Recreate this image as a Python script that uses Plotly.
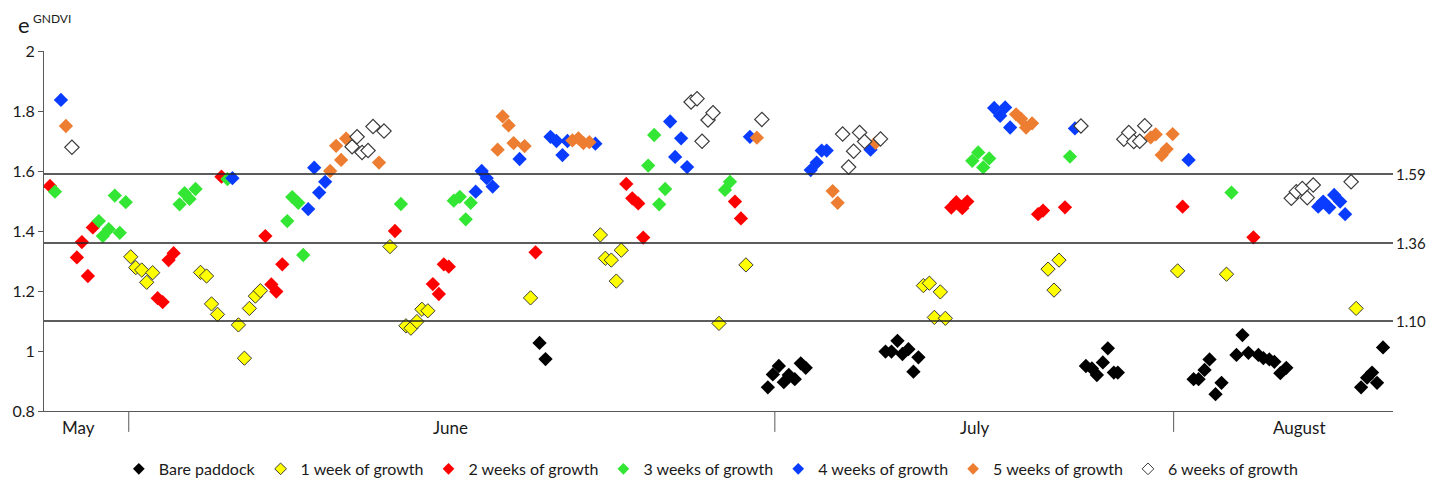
import plotly.graph_objects as go

# ---- data (x = sample position along the season, y = e^GNDVI) ----
series_names = ["Bare paddock", "1 week of growth", "2 weeks of growth", "3 weeks of growth",
                "4 weeks of growth", "5 weeks of growth", "6 weeks of growth"]

bare_x = [537, 543, 766, 771, 777, 782, 787, 793, 799, 804, 884, 890, 896, 901, 907, 912, 917,
          1085, 1091, 1096, 1102, 1107, 1113, 1117, 1193, 1198, 1204, 1209, 1215, 1221, 1236, 1242,
          1248, 1258, 1263, 1269, 1274, 1280, 1286, 1361, 1367, 1372, 1377, 1383]
bare_y = [1.027, 0.973, 0.879, 0.922, 0.95, 0.896, 0.92, 0.906, 0.959, 0.944, 0.998, 0.998, 1.034,
          0.99, 1.006, 0.931, 0.979, 0.95, 0.942, 0.92, 0.962, 1.009, 0.928, 0.928, 0.906, 0.906,
          0.937, 0.972, 0.856, 0.894, 0.987, 1.053, 0.994, 0.987, 0.976, 0.972, 0.964, 0.926, 0.944,
          0.879, 0.911, 0.928, 0.894, 1.012]

w1_x = [127, 132, 138, 143, 149, 197, 203, 208, 214, 235, 241, 246, 252, 257, 387, 403, 408, 414,
        419, 425, 528, 598, 603, 609, 614, 619, 717, 744, 922, 928, 933, 939, 944, 1047, 1053, 1058,
        1177, 1226, 1356]
w1_y = [1.314, 1.278, 1.27, 1.229, 1.261, 1.262, 1.25, 1.157, 1.122, 1.087, 0.976, 1.142, 1.183,
        1.201, 1.348, 1.084, 1.076, 1.098, 1.139, 1.134, 1.177, 1.387, 1.309, 1.303, 1.233, 1.336,
        1.092, 1.287, 1.218, 1.226, 1.112, 1.197, 1.109, 1.273, 1.203, 1.303, 1.267, 1.256, 1.142]

w2_x = [46, 73, 78, 84, 89, 154, 159, 165, 170, 218, 262, 268, 273, 279, 392, 430, 436, 441, 446,
        533, 624, 630, 636, 641, 733, 739, 950, 955, 961, 966, 1037, 1042, 1064, 1182, 1253]
w2_y = [1.55, 1.312, 1.363, 1.25, 1.412, 1.176, 1.163, 1.303, 1.326, 1.581, 1.383, 1.222, 1.198,
        1.289, 1.40, 1.223, 1.19, 1.289, 1.281, 1.329, 1.557, 1.509, 1.492, 1.378, 1.498, 1.442,
        1.478, 1.496, 1.476, 1.498, 1.456, 1.468, 1.479, 1.481, 1.379]

w3_x = [51, 95, 99, 105, 111, 116, 122, 176, 181, 186, 192, 224, 284, 289, 295, 300, 398, 451, 457,
        463, 468, 646, 652, 657, 663, 723, 728, 971, 977, 982, 988, 1069, 1231]
w3_y = [1.531, 1.433, 1.383, 1.406, 1.518, 1.394, 1.496, 1.489, 1.526, 1.507, 1.54, 1.573, 1.433,
        1.513, 1.494, 1.32, 1.49, 1.501, 1.514, 1.439, 1.494, 1.618, 1.72, 1.489, 1.54, 1.537, 1.564,
        1.634, 1.662, 1.612, 1.642, 1.648, 1.528]

w4_x = [57, 229, 305, 311, 316, 322, 473, 479, 484, 490, 517, 548, 554, 560, 565, 593, 668, 673,
        679, 685, 748, 809, 815, 820, 825, 869, 993, 999, 1004, 1009, 1074, 1188, 1318, 1323, 1329,
        1334, 1340, 1345]
w4_y = [1.837, 1.576, 1.473, 1.611, 1.528, 1.564, 1.531, 1.60, 1.576, 1.548, 1.64, 1.714, 1.70,
        1.653, 1.70, 1.691, 1.765, 1.647, 1.709, 1.613, 1.714, 1.603, 1.628, 1.668, 1.668, 1.671,
        1.81, 1.784, 1.812, 1.745, 1.742, 1.637, 1.481, 1.498, 1.478, 1.52, 1.498, 1.456]

w5_x = [62, 327, 333, 338, 343, 376, 495, 500, 506, 511, 522, 570, 576, 581, 587, 755, 831, 836,
        874, 1015, 1020, 1025, 1031, 1150, 1155, 1161, 1166, 1172]
w5_y = [1.75, 1.60, 1.684, 1.637, 1.708, 1.628, 1.671, 1.782, 1.752, 1.693, 1.683, 1.702, 1.709,
        1.693, 1.696, 1.711, 1.533, 1.494, 1.694, 1.789, 1.774, 1.745, 1.759, 1.712, 1.722, 1.653,
        1.673, 1.723]

w6_x = [68, 349, 354, 359, 365, 370, 381, 689, 695, 700, 706, 711, 760, 841, 847, 852, 858, 863,
        879, 1080, 1123, 1128, 1133, 1139, 1144, 1291, 1296, 1302, 1307, 1313, 1351]
w6_y = [1.679, 1.681, 1.714, 1.662, 1.668, 1.748, 1.733, 1.83, 1.841, 1.699, 1.77, 1.794, 1.772,
        1.723, 1.613, 1.666, 1.728, 1.698, 1.707, 1.75, 1.706, 1.728, 1.698, 1.699, 1.751, 1.509,
        1.531, 1.542, 1.511, 1.553, 1.564]

threshold_values = [1.59, 1.36, 1.10]
threshold_labels = ["1.59", "1.36", "1.10"]

month_labels = ["May", "June", "July", "August"]
month_label_pos = [75, 448, 973, 1299]
month_boundaries = [125, 773, 1173]

x_range = [40, 1393]
y_range = [0.8, 2.0]

# ---- styles ----
fills = ["#000000", "#FFFF00", "#FF0000", "#33E633", "#0A3CFF", "#ED7D31", "#FFFFFF"]
outlines = ["#000000", "#3a3a3a", "#FF0000", "#33E633", "#0A3CFF", "#ED7D31", "#3a3a3a"]
outline_w = [0, 1, 0, 0, 0, 0, 1.2]
xs = [bare_x, w1_x, w2_x, w3_x, w4_x, w5_x, w6_x]
ys = [bare_y, w1_y, w2_y, w3_y, w4_y, w5_y, w6_y]

FONT = "Lato, 'Open Sans', sans-serif"
fig = go.Figure()

for name, x, y, fc, lc, lw in zip(series_names, xs, ys, fills, outlines, outline_w):
    fig.add_trace(go.Scatter(
        x=x, y=y, mode="markers", name=name, showlegend=False, legendgroup=name,
        marker=dict(symbol="diamond", size=11, color=fc, line=dict(color=lc, width=lw)),
    ))

# legend entries with the smaller legend symbols of the reference
for name, fc, lc, lw in zip(series_names, fills, outlines, outline_w):
    fig.add_trace(go.Scatter(
        x=[None], y=[None], mode="markers", name=name, legendgroup=name,
        marker=dict(symbol="diamond", size=9, color=fc, line=dict(color=lc, width=min(lw, 1))),
    ))

shapes = []
annotations = []
for v, lab in zip(threshold_values, threshold_labels):
    shapes.append(dict(type="line", xref="paper", yref="y", x0=0, x1=1, y0=v, y1=v,
                       line=dict(color="#262626", width=1.5)))
    annotations.append(dict(xref="paper", yref="y", x=1, y=v, text=lab, showarrow=False,
                            xanchor="left", yanchor="middle", xshift=1,
                            font=dict(family=FONT, size=15, color="#1a1a1a")))

for b in month_boundaries:
    shapes.append(dict(type="line", xref="x", yref="paper", x0=b, x1=b, y0=0, y1=-0.058,
                       line=dict(color="#595959", width=1)))
for lab, p in zip(month_labels, month_label_pos):
    annotations.append(dict(xref="x", yref="paper", x=p, y=-0.047, text=lab, showarrow=False,
                            xanchor="center", yanchor="middle",
                            font=dict(family=FONT, size=17, color="#1a1a1a")))

# y-axis title "e^GNDVI" placed at top-left
annotations.append(dict(xref="paper", yref="paper", x=-0.0205, y=1.073,
                        text="e", showarrow=False, xanchor="left", yanchor="middle",
                        font=dict(family=FONT, size=22, color="#1a1a1a")))
annotations.append(dict(xref="paper", yref="paper", x=-0.0095, y=1.089,
                        text="GNDVI", showarrow=False, xanchor="left", yanchor="middle",
                        font=dict(family=FONT, size=12, color="#1a1a1a")))

fig.update_layout(
    width=1436, height=479,
    margin=dict(l=40, r=43, t=51, b=68),
    paper_bgcolor="white", plot_bgcolor="white",
    showlegend=True,
    legend=dict(orientation="h", x=0.495, xanchor="center", xref="container",
                y=0.021, yanchor="middle", yref="container",
                font=dict(family=FONT, size=16, color="#1a1a1a"), itemsizing="trace",
                traceorder="normal", itemwidth=30, itemclick=False, itemdoubleclick=False),
    shapes=shapes, annotations=annotations,
    xaxis=dict(range=x_range, showticklabels=False, showgrid=False, zeroline=False,
               showline=True, linecolor="#595959", linewidth=1, ticks=""),
    yaxis=dict(range=y_range, dtick=0.2, tick0=0.8, showgrid=False, zeroline=False,
               showline=True, linecolor="#595959", linewidth=1, ticks="outside", ticklen=5,
               tickcolor="#595959", tickfont=dict(family=FONT, size=16, color="#1a1a1a")),
    font=dict(family=FONT),
)

fig.write_html("out.html")
